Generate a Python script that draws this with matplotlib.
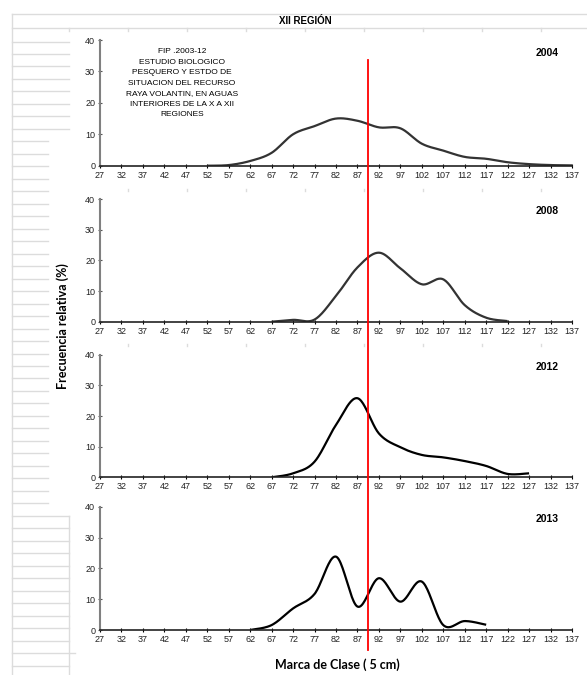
import numpy as np
import matplotlib
matplotlib.use('Agg')
import matplotlib.pyplot as plt
from matplotlib.lines import Line2D
from matplotlib.transforms import blended_transform_factory

# class marks (cm) and relative frequency (%) per year
marks_2004 = [52, 57, 62, 67, 72, 77, 82, 87, 92, 97, 102, 107, 112, 117, 122, 127, 132, 137]
freq_2004 = [0, 0.2, 1.5, 4.1, 10.0, 12.6, 15.0, 14.3, 12.2, 11.9, 7.0, 4.8, 2.8, 2.2, 1.1, 0.5, 0.2, 0.1]

marks_2008 = [67, 72, 77, 82, 87, 92, 97, 102, 107, 112, 117, 122]
freq_2008 = [0, 0.6, 0.7, 8.4, 17.7, 22.5, 17.4, 12.2, 13.8, 5.4, 1.3, 0.2]

marks_2012 = [67, 72, 77, 82, 87, 92, 97, 102, 107, 112, 117, 122, 127]
freq_2012 = [0, 1.3, 5.1, 17.1, 25.8, 14.3, 9.8, 7.3, 6.5, 5.3, 3.7, 1.1, 1.3]

marks_2013 = [62, 67, 72, 77, 82, 87, 92, 97, 102, 107, 112, 117]
freq_2013 = [0, 1.6, 7.0, 11.7, 23.8, 7.6, 16.8, 9.2, 15.7, 1.6, 2.9, 1.7]

years = ['2004', '2008', '2012', '2013']
x_ticks = list(range(27, 138, 5))
y_ticks = [0, 10, 20, 30, 40]
ref_size = 89.5  # red reference line

note = ('FIP .2003-12\nESTUDIO BIOLOGICO\nPESQUERO Y ESTDO DE\nSITUACION DEL RECURSO\n'
        'RAYA VOLANTIN, EN AGUAS\nINTERIORES DE LA X A XII\nREGIONES')

W, H = 587, 675


def fx(px):
    return px / W


def fy(py):
    return 1 - py / H


def smooth(x, y, n=24):
    # excel style smoothed line (cubic bezier through every point)
    p = np.column_stack([np.asarray(x, float), np.asarray(y, float)])
    pe = np.vstack([p[0], p, p[-1]])
    t = np.linspace(0, 1, n)[:, None]
    out = []
    for i in range(len(p) - 1):
        p0, p1, p2, p3 = pe[i], pe[i + 1], pe[i + 2], pe[i + 3]
        c1 = p1 + (p2 - p0) / 6
        c2 = p2 - (p3 - p1) / 6
        seg = (1 - t) ** 3 * p1 + 3 * (1 - t) ** 2 * t * c1 + 3 * (1 - t) * t ** 2 * c2 + t ** 3 * p2
        out.append(seg if i == 0 else seg[1:])
    out = np.vstack(out)
    return out[:, 0], out[:, 1]


fig = plt.figure(figsize=(W / 100, H / 100), dpi=100)
fig.patch.set_facecolor('white')

# spreadsheet background
grid_c = '#dcdcdc'


def hline(y, x0, x1):
    fig.add_artist(Line2D([fx(x0), fx(x1)], [fy(y), fy(y)], color=grid_c, lw=1))


def vline(x, y0, y1):
    fig.add_artist(Line2D([fx(x), fx(x)], [fy(y0), fy(y1)], color=grid_c, lw=1))


hline(14, 12, W)
hline(28, 12, W)
vline(12, 14, H)
vline(69, 516, H)
for k in range(51):
    y = 41.5 + k * 12.48
    if k <= 7:
        hline(y, 12, 69)
    elif k <= 37:
        hline(y, 12, 48)
    elif k == 49:
        hline(y, 12, 75)
    else:
        hline(y, 12, 69)
for cx in [69, 128, 187, 246, 305, 364, 423, 482, 541]:
    vline(cx, 28, 31)
for cy in [189, 344]:
    for cx in [128, 187, 246, 305, 364, 423, 482, 541]:
        vline(cx, cy, cy + 2)

fig.text(fx(305), fy(21), 'XII REGIÓN', ha='center', va='center', fontsize=7,
         fontweight='bold', family='Liberation Sans')

panels = [
    (40, 165.7, marks_2004, freq_2004, '#333333'),
    (199, 321.7, marks_2008, freq_2008, '#333333'),
    (354.7, 477.3, marks_2012, freq_2012, 'black'),
    (506.7, 630, marks_2013, freq_2013, 'black'),
]

axes = []
for (top, bottom, xs, ys, col), year in zip(panels, years):
    ax = fig.add_axes([fx(100), fy(bottom), 472 / W, (bottom - top) / H])
    ax.patch.set_alpha(0)
    sx, sy = smooth(xs, ys)
    ax.plot(sx, sy, color=col, lw=1.6, solid_capstyle='butt')
    ax.set_xlim(27, 137)
    ax.set_ylim(0, 40)
    ax.set_xticks(x_ticks)
    ax.set_yticks(y_ticks)
    ax.tick_params(axis='both', labelsize=6.5, labelcolor='#222222', length=3,
                   direction='inout', width=0.8, pad=2)
    ax.tick_params(axis='y', colors='#555555', labelcolor='#222222')
    for lab in ax.get_xticklabels() + ax.get_yticklabels():
        lab.set_family('Liberation Sans')
    ax.spines['top'].set_visible(False)
    ax.spines['right'].set_visible(False)
    ax.spines['left'].set_color('#808080')
    ax.spines['left'].set_linewidth(1.5)
    ax.spines['bottom'].set_color('#222222')
    ax.spines['bottom'].set_linewidth(1.2)
    ax.text(131.2, 36, year, ha='center', va='center', fontsize=7.5,
            fontweight='bold', family='Liberation Sans')
    axes.append(ax)

axes[0].text(46.1, 26.3, note, ha='center', va='center', fontsize=6.0, linespacing=1.7,
             family=['Liberation Sans Narrow', 'Liberation Sans'])

# red reference line across all panels
tr = blended_transform_factory(axes[0].transData, fig.transFigure)
fig.add_artist(Line2D([ref_size, ref_size], [fy(60), fy(650)], transform=tr,
                      color='red', lw=1.3))

fig.text(fx(63), fy(326), 'Frecuencia relativa (%)', rotation=90, ha='center',
         va='center', fontsize=9, fontweight='bold', family=['Lato', 'DejaVu Sans'])
fig.text(fx(337), fy(665), 'Marca de Clase ( 5 cm)', ha='center', va='center',
         fontsize=9, fontweight='bold', family=['Lato', 'DejaVu Sans'])

fig.savefig('out.png', dpi=100, facecolor='white')
